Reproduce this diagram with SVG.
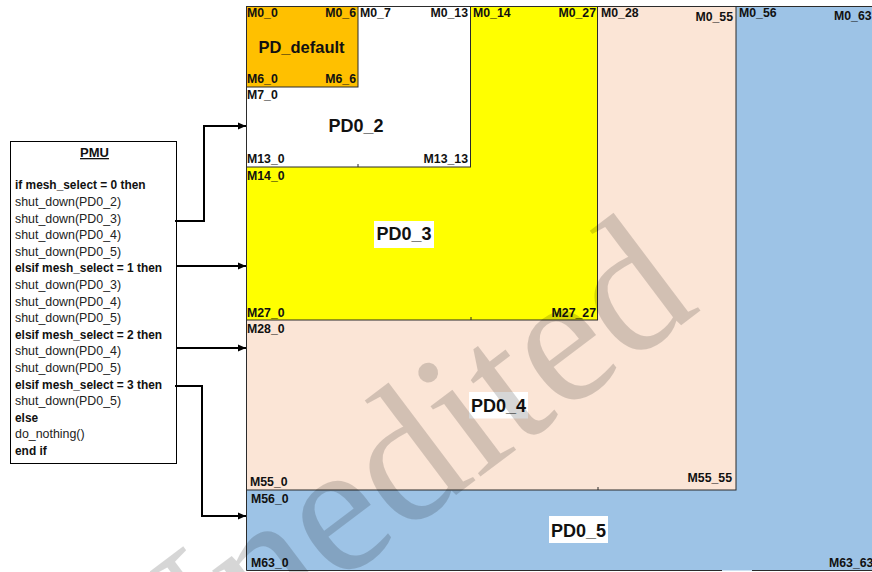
<svg xmlns="http://www.w3.org/2000/svg" width="872" height="572" viewBox="0 0 872 572">
<defs>
<style>
.lbl{font-family:"Liberation Sans",Arial,sans-serif;font-weight:bold;font-size:12.3px;fill:#111}
.end{text-anchor:end}
.big{font-family:"Liberation Sans",Arial,sans-serif;font-weight:bold;font-size:18px;fill:#111;text-anchor:middle}
.code{font-family:"Liberation Sans",Arial,sans-serif;font-size:12.4px;fill:#222}
.codeb{font-family:"Liberation Sans",Arial,sans-serif;font-size:11.9px;font-weight:bold;fill:#111}
.region{stroke:#2b2b2b;stroke-width:1}
.tick{stroke:#2b2b2b;stroke-width:1}
.conn{fill:none;stroke:#000;stroke-width:2}
.wm{font-family:"Liberation Serif","Times New Roman",serif;font-size:188px;fill:#000;fill-opacity:0.16}
</style>
<marker id="arr" viewBox="0 0 8 8" refX="8" refY="4" markerWidth="8" markerHeight="8" markerUnits="userSpaceOnUse" orient="auto">
<path d="M0,0.5 L8,4 L0,7.5 Z" fill="#000"/>
</marker>
</defs>
<rect x="0" y="0" width="872" height="572" fill="#fff"/>

<g id="PD0_5">
<rect x="246.5" y="6.5" width="640" height="564" fill="#9dc3e6" stroke="none"/>
<path class="region" fill="none" d="M246.5,570.5 V6.5 H872 M246.5,570.5 H722 M752,570.5 H872"/>
<text class="lbl" x="739" y="17">M0_56</text>
<text class="lbl" x="834" y="20">M0_63</text>
<text class="lbl" x="251" y="503">M56_0</text>
<text class="lbl" x="251" y="567">M63_0</text>
<text class="lbl" x="829" y="567">M63_63</text>
<rect x="549" y="516" width="59" height="27" fill="#fff"/>
<text class="big" x="578.5" y="536.5">PD0_5</text>
</g>

<g id="PD0_4">
<rect class="region" x="246.5" y="6.5" width="489.5" height="483.5" fill="#fbe5d6"/>
<line class="tick" x1="598" y1="487" x2="598" y2="490"/>
<text class="lbl" x="601" y="17">M0_28</text>
<text class="lbl end" x="733" y="21">M0_55</text>
<text class="lbl" x="247" y="333">M28_0</text>
<text class="lbl" x="250" y="486">M55_0</text>
<text class="lbl end" x="732" y="482">M55_55</text>
<rect x="469" y="392" width="59" height="26.5" fill="#fff"/>
<text class="big" x="498.5" y="411.5">PD0_4</text>
</g>

<g id="PD0_3">
<rect class="region" x="246.5" y="6.5" width="351" height="313.5" fill="#ffff00"/>
<line class="tick" x1="471" y1="317" x2="471" y2="320"/>
<text class="lbl" x="473" y="17">M0_14</text>
<text class="lbl end" x="596" y="17">M0_27</text>
<text class="lbl" x="247" y="180">M14_0</text>
<text class="lbl" x="247" y="317">M27_0</text>
<text class="lbl end" x="596" y="317">M27_27</text>
<rect x="374" y="221" width="60" height="27" fill="#fff"/>
<text class="big" x="404" y="240">PD0_3</text>
</g>

<g id="PD0_2">
<rect class="region" x="246.5" y="6.5" width="224" height="160.5" fill="#fff"/>
<line class="tick" x1="358" y1="164" x2="358" y2="167"/>
<text class="lbl" x="360" y="17">M0_7</text>
<text class="lbl end" x="468" y="17">M0_13</text>
<text class="lbl" x="247" y="99">M7_0</text>
<text class="lbl" x="247" y="163">M13_0</text>
<text class="lbl end" x="468" y="163">M13_13</text>
<text class="big" x="356" y="132">PD0_2</text>
</g>

<g id="PD_default">
<rect class="region" x="246.5" y="6.5" width="111.5" height="80.5" fill="#ffc000"/>
<text class="lbl" x="247" y="17">M0_0</text>
<text class="lbl end" x="356" y="17">M0_6</text>
<text class="lbl" x="247" y="83">M6_0</text>
<text class="lbl end" x="356" y="83">M6_6</text>
<text class="big" x="301.5" y="53" style="font-size:16.5px">PD_default</text>
</g>

<g id="PMU">
<rect x="10.5" y="141.5" width="166" height="322" fill="#fff" stroke="#000" stroke-width="1"/>
<text class="codeb" x="94.5" y="157" text-anchor="middle" style="font-size:13px;text-decoration:underline">PMU</text>
<text class="codeb" x="15" y="189.3">if mesh_select = 0 then</text>
<text class="code" x="15" y="205.9">shut_down(PD0_2)</text>
<text class="code" x="15" y="222.5">shut_down(PD0_3)</text>
<text class="code" x="15" y="239.1">shut_down(PD0_4)</text>
<text class="code" x="15" y="255.7">shut_down(PD0_5)</text>
<text class="codeb" x="15" y="272.3">elsif mesh_select = 1 then</text>
<text class="code" x="15" y="288.9">shut_down(PD0_3)</text>
<text class="code" x="15" y="305.5">shut_down(PD0_4)</text>
<text class="code" x="15" y="322.1">shut_down(PD0_5)</text>
<text class="codeb" x="15" y="338.7">elsif mesh_select = 2 then</text>
<text class="code" x="15" y="355.3">shut_down(PD0_4)</text>
<text class="code" x="15" y="371.9">shut_down(PD0_5)</text>
<text class="codeb" x="15" y="388.5">elsif mesh_select = 3 then</text>
<text class="code" x="15" y="405.1">shut_down(PD0_5)</text>
<text class="codeb" x="15" y="421.7">else</text>
<text class="code" x="15" y="438.3">do_nothing()</text>
<text class="codeb" x="15" y="454.9">end if</text>
</g>

<g id="connectors">
<path class="conn" d="M175,221 H204 V126 H246" marker-end="url(#arr)"/>
<path class="conn" d="M176,266 H246" marker-end="url(#arr)"/>
<path class="conn" d="M176,348 H246" marker-end="url(#arr)"/>
<path class="conn" d="M175,386 H202 V516 H246" marker-end="url(#arr)"/>
</g>

<text class="wm" transform="translate(152,724) rotate(-37)">Unedited</text>
</svg>
